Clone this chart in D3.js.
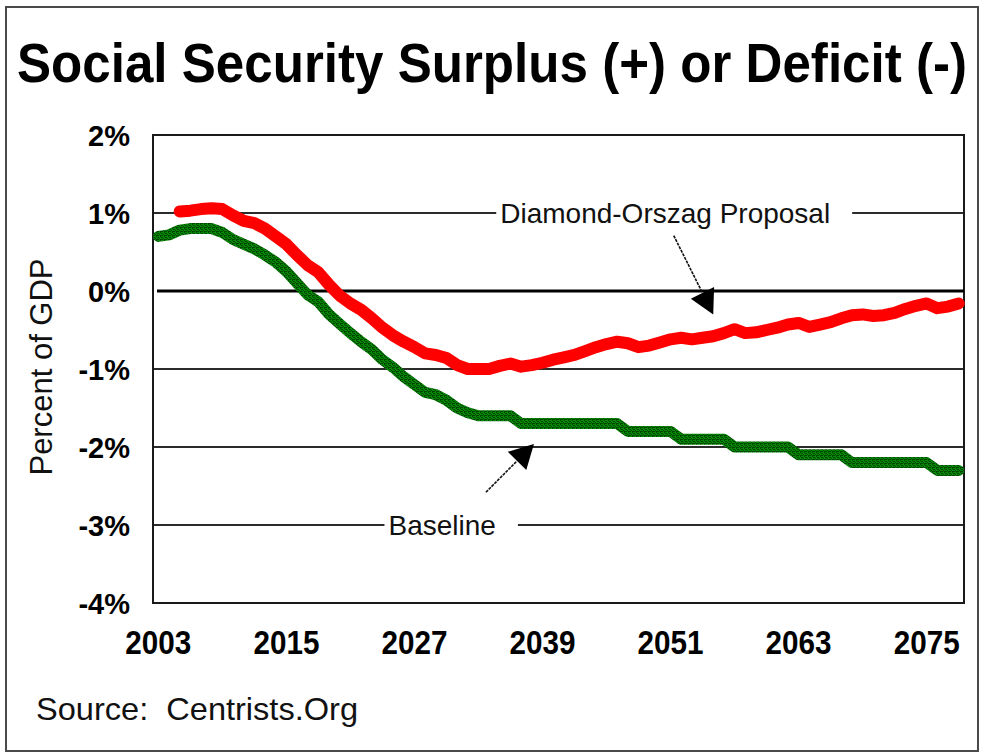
<!DOCTYPE html>
<html>
<head>
<meta charset="utf-8">
<script src="https://cdn.jsdelivr.net/npm/d3@7/dist/d3.min.js"></script>
<style>
  html, body { margin: 0; padding: 0; background: #fff; }
  svg { display: block; font-family: "Liberation Sans", Arial, sans-serif; }
</style>
</head>
<body>
<svg id="chart" width="985" height="756"></svg>
<script>
// Social Security balance as a share of GDP, by year
const years = d3.range(2003, 2079);

const baseline = [
  0.70, 0.72, 0.78, 0.80, 0.80, 0.80, 0.75, 0.66, 0.60, 0.54,
  0.46, 0.37, 0.25, 0.10, -0.05, -0.14, -0.30, -0.42, -0.54, -0.65,
  -0.75, -0.88, -0.98, -1.10, -1.20, -1.30, -1.33, -1.40, -1.50, -1.56,
  -1.60, -1.60, -1.60, -1.60, -1.70, -1.70, -1.70, -1.70, -1.70, -1.70,
  -1.70, -1.70, -1.70, -1.70, -1.80, -1.80, -1.80, -1.80, -1.80, -1.90,
  -1.90, -1.90, -1.90, -1.90, -2.00, -2.00, -2.00, -2.00, -2.00, -2.00,
  -2.10, -2.10, -2.10, -2.10, -2.10, -2.20, -2.20, -2.20, -2.20, -2.20,
  -2.20, -2.20, -2.20, -2.30, -2.30, -2.30
];

// Proposal series begins in 2005
const proposalStart = 2005;
const proposal = [
  1.02, 1.03, 1.05, 1.06, 1.05, 0.97, 0.90, 0.87, 0.80, 0.70,
  0.60, 0.46, 0.33, 0.24, 0.08, -0.06, -0.16, -0.24, -0.35, -0.47,
  -0.57, -0.65, -0.72, -0.80, -0.82, -0.86, -0.95, -1.00, -1.00, -1.00,
  -0.96, -0.93, -0.97, -0.95, -0.92, -0.88, -0.85, -0.82, -0.77, -0.72,
  -0.68, -0.65, -0.67, -0.72, -0.70, -0.66, -0.62, -0.60, -0.62, -0.60,
  -0.58, -0.54, -0.49, -0.54, -0.53, -0.50, -0.47, -0.43, -0.41, -0.46,
  -0.43, -0.40, -0.35, -0.31, -0.30, -0.32, -0.31, -0.28, -0.23, -0.19,
  -0.16, -0.22, -0.20, -0.16
];

const yTicks = [2, 1, 0, -1, -2, -3, -4];
const xTickYears = [2003, 2015, 2027, 2039, 2051, 2063, 2075];

const titleText = "Social Security Surplus (+) or Deficit (-)";
const yAxisTitle = "Percent of GDP";
const sourceText = "Source:\u00a0\u00a0Centrists.Org";

// Callouts: label and an arrow from [year, value] to [year, value]
const callouts = [
  { label: "Diamond-Orszag Proposal", at: [2050.5, 1], from: [2051.3, 0.71], to: [2055.0, -0.30] },
  { label: "Baseline", at: [2029.6, -3], from: [2033.7, -2.58], to: [2038.2, -1.96] }
];

const svg = d3.select("#chart");
const W = 985, H = 756;
const plot = { left: 153, right: 964, top: 135, bottom: 603 };

// outer frame
svg.append("rect")
  .attr("x", 6).attr("y", 7).attr("width", W - 13).attr("height", H - 12)
  .attr("fill", "#fff").attr("stroke", "#4a4a4a").attr("stroke-width", 2);

const x = d3.scaleBand().domain(years).range([plot.left, plot.right]);
const xc = yr => x.range()[0] + (yr - years[0] + 0.5) * x.step();
const y = d3.scaleLinear().domain([-4, 2]).range([plot.bottom, plot.top]);

// dithered green texture for the baseline stroke
const defs = svg.append("defs");
const pat = defs.append("pattern")
  .attr("id", "greenDither").attr("patternUnits", "userSpaceOnUse")
  .attr("width", 4).attr("height", 4);
pat.append("rect").attr("width", 4).attr("height", 4).attr("fill", "#078a07");
[[0,0],[1,1],[2,1],[3,2],[0,3],[2,3],[1,3]].forEach(([px, py]) => {
  pat.append("rect").attr("x", px).attr("y", py).attr("width", 1).attr("height", 1).attr("fill", "#004400");
});

// gridlines
const g = svg.append("g");
g.selectAll("line.grid")
  .data(yTicks.filter(v => v !== 0 && v !== 2 && v !== -4))
  .join("line")
  .attr("x1", plot.left).attr("x2", plot.right)
  .attr("y1", d => y(d)).attr("y2", d => y(d))
  .attr("stroke", "#2b2b2b").attr("stroke-width", 2);

// plot frame
g.append("rect")
  .attr("x", plot.left).attr("y", plot.top)
  .attr("width", plot.right - plot.left).attr("height", plot.bottom - plot.top)
  .attr("fill", "none").attr("stroke", "#1a1a1a").attr("stroke-width", 2);

// zero line
g.append("line")
  .attr("x1", plot.left + 4).attr("x2", plot.right)
  .attr("y1", y(0)).attr("y2", y(0))
  .attr("stroke", "#000").attr("stroke-width", 3);

// callout labels sit on the gridlines with a white gap behind them
const arrowLen = 24, arrowHalf = 13;
const calloutLayer = svg.append("g");
callouts.forEach(c => {
  const grp = calloutLayer.append("g");
  const bg = grp.append("rect").attr("fill", "#fff");
  const t = grp.append("text")
    .attr("x", xc(c.at[0])).attr("y", y(c.at[1]))
    .attr("dy", "0.36em").attr("text-anchor", "middle")
    .attr("font-size", 28).attr("fill", "#111")
    .text(c.label);
  const bb = t.node().getBBox();
  bg.attr("x", bb.x - 4).attr("y", bb.y)
    .attr("width", bb.width + 26).attr("height", bb.height);
});

// series
const line = d3.line().x(d => xc(d[0])).y(d => y(d[1]));
const baseData = years.map((yr, i) => [yr, baseline[i]]);
const propData = proposal.map((v, i) => [proposalStart + i, v]);

svg.append("path").datum(propData)
  .attr("d", line).attr("fill", "none")
  .attr("stroke", "#ff0000").attr("stroke-width", 12)
  .attr("stroke-linejoin", "round").attr("stroke-linecap", "round");

svg.append("path").datum(baseData)
  .attr("d", line).attr("fill", "none")
  .attr("stroke", "url(#greenDither)").attr("stroke-width", 11)
  .attr("stroke-linejoin", "round").attr("stroke-linecap", "round");

// callout arrows
callouts.forEach(c => {
  const x1 = xc(c.from[0]), y1 = y(c.from[1]);
  const x2 = xc(c.to[0]), y2 = y(c.to[1]);
  const dx = x2 - x1, dy = y2 - y1, len = Math.hypot(dx, dy);
  const ux = dx / len, uy = dy / len;
  const bx = x2 - ux * arrowLen, by = y2 - uy * arrowLen;
  svg.append("line")
    .attr("x1", x1).attr("y1", y1).attr("x2", bx).attr("y2", by)
    .attr("stroke", "#111").attr("stroke-width", 1.6).attr("stroke-dasharray", "3,1");
  svg.append("polygon")
    .attr("points", [
      [x2, y2],
      [bx - uy * arrowHalf, by + ux * arrowHalf],
      [bx + uy * arrowHalf, by - ux * arrowHalf]
    ].map(p => p.join(",")).join(" "))
    .attr("fill", "#000");
});

// y axis
const yAxis = svg.append("g")
  .attr("transform", `translate(${plot.left},0)`)
  .call(d3.axisLeft(y).tickValues(yTicks).tickSize(0).tickPadding(23).tickFormat(d => d + "%"));
yAxis.select(".domain").remove();
yAxis.selectAll("text")
  .attr("font-family", "'Liberation Sans', Arial, sans-serif")
  .attr("font-size", 29).attr("font-weight", "bold").attr("fill", "#000")
  .attr("dy", "0.36em");

// x axis
const xAxis = svg.append("g")
  .attr("transform", `translate(0,${plot.bottom})`)
  .call(d3.axisBottom(x).tickValues(xTickYears).tickSize(0));
xAxis.select(".domain").remove();
xAxis.selectAll("text")
  .attr("font-family", "'Liberation Sans', Arial, sans-serif")
  .attr("font-size", 34).attr("font-weight", "bold").attr("fill", "#000")
  .attr("dy", null).attr("y", 51)
  .attr("textLength", 66).attr("lengthAdjust", "spacingAndGlyphs");

// title: slightly tall, narrow lettering
svg.append("text")
  .attr("transform", "translate(17,82) scale(1,1.1)")
  .attr("font-size", 51).attr("font-weight", "bold").attr("fill", "#000")
  .attr("textLength", 950).attr("lengthAdjust", "spacingAndGlyphs")
  .text(titleText);

// y axis title
svg.append("text")
  .attr("transform", `translate(52,${367}) rotate(-90)`)
  .attr("text-anchor", "middle")
  .attr("font-size", 31).attr("fill", "#111")
  .text(yAxisTitle);

// source note
svg.append("text")
  .attr("x", 36).attr("y", 720)
  .attr("font-size", 32).attr("fill", "#111")
  .attr("textLength", 322).attr("lengthAdjust", "spacingAndGlyphs")
  .text(sourceText);
</script>
</body>
</html>
